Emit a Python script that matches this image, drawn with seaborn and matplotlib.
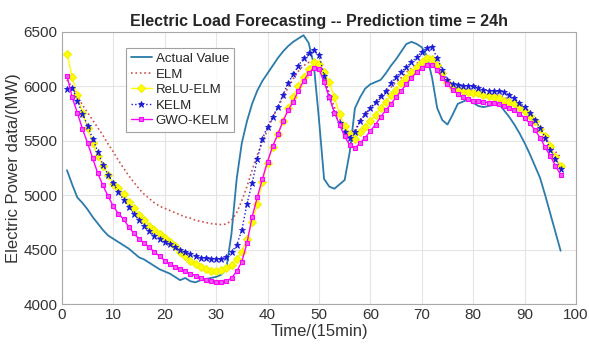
"""
Electric Load Forecasting -- Prediction time = 24h
"""

import pandas as pd
import numpy as np
import matplotlib
matplotlib.use('Agg')
import matplotlib.pyplot as plt
import seaborn as sns

# ============================================================================
# DATA
# ============================================================================

time_steps = list(range(1, 98))

actual = [5230, 5100, 4980, 4930, 4870, 4800, 4740, 4680, 4630, 4600,
          4570, 4540, 4510, 4470, 4430, 4410, 4380, 4350, 4320, 4300,
          4280, 4250, 4220, 4240, 4210, 4200, 4220, 4230, 4240, 4250,
          4270, 4330, 4650, 5150, 5480, 5680, 5840, 5960, 6050, 6120,
          6190, 6260, 6320, 6370, 6410, 6440, 6470, 6400, 6200, 5700,
          5150, 5080, 5060, 5100, 5140, 5400, 5800, 5900, 5980, 6020,
          6040, 6060, 6120, 6190, 6250, 6320, 6390, 6410, 6390, 6360,
          6280, 6080, 5800, 5690, 5650, 5740, 5840, 5860, 5880, 5850,
          5820, 5810, 5820, 5830, 5840, 5780, 5720, 5650, 5570, 5480,
          5380, 5270, 5160, 5000, 4830, 4660, 4490]

elm = [6060, 5990, 5910, 5830, 5760, 5690, 5620, 5550, 5470, 5400,
       5320, 5250, 5180, 5120, 5060, 5010, 4970, 4930, 4900, 4880,
       4860, 4840, 4820, 4800, 4790, 4770, 4760, 4750, 4740, 4735,
       4730, 4735, 4770, 4840, 4950, 5080, 5230, 5370, 5490, 5600,
       5710, 5810, 5900, 5990, 6070, 6140, 6190, 6220, 6230, 6200,
       6080, 5940, 5810, 5700, 5620, 5570, 5600, 5680, 5750, 5800,
       5850, 5890, 5940, 5990, 6040, 6080, 6130, 6170, 6210, 6240,
       6260, 6260, 6200, 6120, 6050, 6000, 5980, 5970, 5960, 5955,
       5950, 5940, 5930, 5920, 5910, 5900, 5880, 5860, 5830, 5790,
       5740, 5680, 5610, 5540, 5460, 5400, 5350]

relu_elm = [6300, 6090, 5920, 5760, 5620, 5480, 5360, 5270, 5190, 5100,
            5070, 5010, 4940, 4880, 4820, 4770, 4720, 4680, 4640, 4610,
            4570, 4530, 4480, 4440, 4400, 4370, 4340, 4320, 4305, 4300,
            4310, 4330, 4360, 4410, 4480, 4600, 4750, 4920, 5120, 5300,
            5440, 5560, 5680, 5800, 5900, 6000, 6090, 6160, 6220, 6210,
            6130, 6040, 5900, 5750, 5640, 5560, 5520, 5580, 5630, 5680,
            5740, 5800, 5860, 5920, 5970, 6030, 6080, 6130, 6180, 6220,
            6260, 6250, 6200, 6120, 6040, 5990, 5970, 5960, 5950, 5940,
            5935, 5920, 5910, 5900, 5890, 5870, 5860, 5845, 5810, 5770,
            5730, 5680, 5610, 5540, 5450, 5350, 5270]

kelm = [5980, 5990, 5870, 5750, 5640, 5520, 5400, 5280, 5190, 5110,
        5030, 4960, 4890, 4830, 4770, 4720, 4670, 4630, 4600, 4570,
        4550, 4520, 4500, 4480, 4460, 4440, 4425, 4420, 4415, 4410,
        4415, 4430, 4480, 4540, 4680, 4920, 5110, 5330, 5520, 5630,
        5720, 5810, 5920, 6030, 6110, 6190, 6260, 6310, 6330, 6290,
        6100, 5900, 5760, 5660, 5580, 5530, 5580, 5680, 5750, 5800,
        5860, 5910, 5960, 6030, 6090, 6130, 6180, 6220, 6270, 6320,
        6350, 6360, 6260, 6150, 6060, 6020, 6010, 6005, 6000, 6000,
        5990, 5970, 5960, 5955, 5955, 5950, 5920, 5890, 5850, 5810,
        5760, 5690, 5620, 5530, 5420, 5330, 5240]

gwo_kelm = [6100, 5900, 5760, 5610, 5480, 5340, 5200, 5090, 4990, 4900,
            4830, 4780, 4710, 4650, 4600, 4560, 4520, 4480, 4440, 4400,
            4370, 4340, 4320, 4300, 4280, 4260, 4240, 4220, 4210, 4200,
            4200, 4210, 4240, 4300, 4390, 4560, 4800, 4980, 5150, 5310,
            5450, 5560, 5680, 5780, 5860, 5960, 6050, 6120, 6170, 6160,
            6040, 5900, 5760, 5650, 5540, 5460, 5430, 5480, 5530, 5590,
            5650, 5720, 5780, 5840, 5900, 5960, 6020, 6080, 6130, 6170,
            6200, 6200, 6150, 6080, 6020, 5970, 5930, 5900, 5880, 5870,
            5865, 5860, 5850, 5845, 5835, 5820, 5800, 5780, 5750, 5710,
            5660, 5600, 5530, 5440, 5360, 5270, 5190]

series_names = ['Actual Value', 'ELM', 'ReLU-ELM', 'KELM', 'GWO-KELM']

df = pd.DataFrame({'t': time_steps,
                   'Actual Value': actual,
                   'ELM': elm,
                   'ReLU-ELM': relu_elm,
                   'KELM': kelm,
                   'GWO-KELM': gwo_kelm})

# ============================================================================
# PLOT
# ============================================================================

sns.set_style("whitegrid")
plt.rcParams['font.family'] = ['Liberation Sans', 'DejaVu Sans']

fig = plt.figure(figsize=(5.89, 3.44), dpi=100)
ax = fig.add_axes([0.105, 0.116, 0.873, 0.791])

styles = {
    'Actual Value': dict(color='#2b7bab', linestyle='-', linewidth=1.3),
    'ELM': dict(color='#d0504a', linestyle=':', linewidth=1.2),
    'ReLU-ELM': dict(color='#ffff00', linestyle='-', linewidth=1.0,
                     marker='D', markersize=3.8, markeredgecolor='#f0f000',
                     markeredgewidth=0.8),
    'KELM': dict(color='#1a1ad8', linestyle=':', linewidth=1.0,
                 marker='*', markersize=5, markeredgecolor='#1a1ad8',
                 markeredgewidth=0.6),
    'GWO-KELM': dict(color='#ff00ff', linestyle='-', linewidth=1.0,
                     marker='s', markersize=3.4, markerfacecolor='#e860e8',
                     markeredgecolor='#ff00ff', markeredgewidth=0.8),
}

# seaborn draws each series through matplotlib's line API
for name in series_names:
    sns.lineplot(data=df, x='t', y=name, ax=ax, label=name, **styles[name])

ax.set_xlim(0, 100)
ax.set_ylim(4000, 6500)
ax.set_xticks(np.arange(0, 101, 10))
ax.set_yticks(np.arange(4000, 6501, 500))
ax.tick_params(labelsize=11, colors='#333333', length=0, pad=3)
ax.grid(True, color='#e4e4e4', linewidth=0.8)
for s in ax.spines.values():
    s.set_color('#a8a8a8')
    s.set_linewidth(0.8)

ax.set_xlabel('Time/(15min)', fontsize=12, color='#333333', labelpad=1)
ax.set_ylabel('Electric Power data/(MW)', fontsize=12, color='#333333', labelpad=2)
ax.set_title('Electric Load Forecasting -- Prediction time = 24h',
             fontsize=11.5, fontweight='bold', pad=4)

leg = ax.legend(loc='upper left', bbox_to_anchor=(0.112, 0.965), fontsize=9.5,
                frameon=True, fancybox=False, handlelength=1.6,
                handletextpad=0.3, borderpad=0.35, labelspacing=0.25)
leg.get_frame().set_edgecolor('#8a8a8a')
leg.get_frame().set_linewidth(0.8)

plt.savefig('out.png', dpi=100)
